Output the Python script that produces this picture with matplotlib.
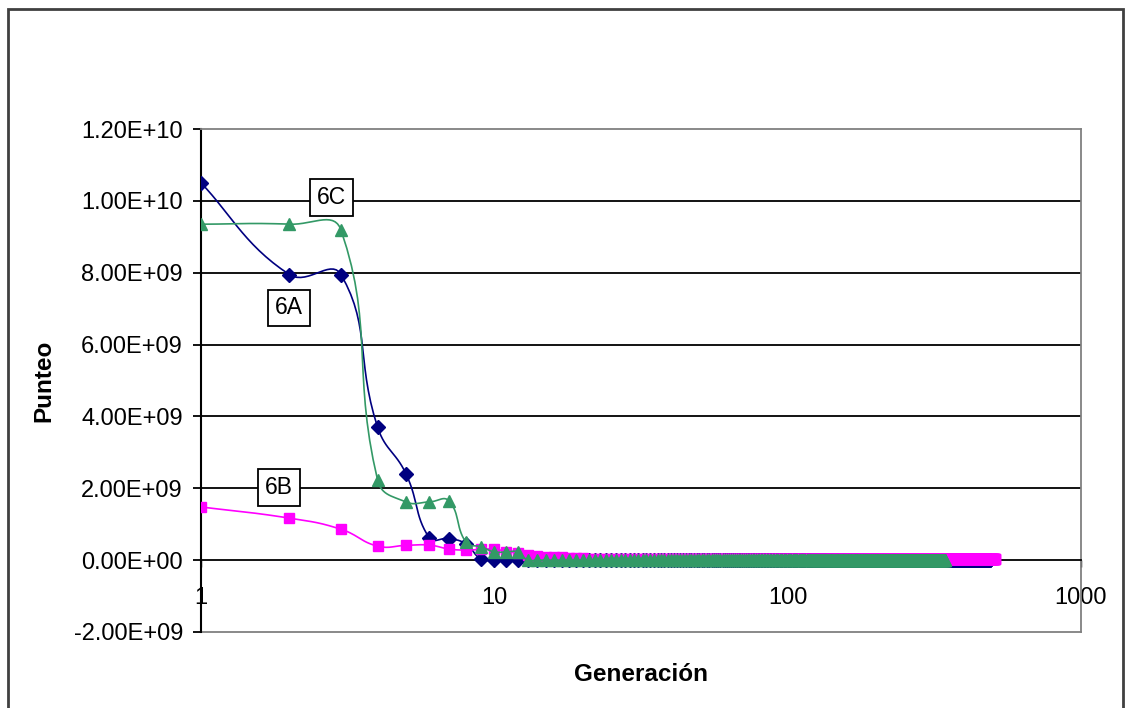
import numpy as np
import matplotlib
matplotlib.use("Agg")
import matplotlib.pyplot as plt
from matplotlib.patches import Rectangle
from matplotlib.ticker import FuncFormatter, FixedLocator, NullLocator

plt.rcParams['font.family'] = ['Liberation Sans', 'DejaVu Sans']

# Punteo per generation, first generations read one by one, tails sit on zero
gen_a = list(range(1, 491))
vals_a = [1.05e10, 7.95e9, 7.95e9, 3.70e9, 2.40e9, 6.2e8, 6.0e8, 4.5e8,
          3.0e7, 0.0, 0.0, 0.0] + [0.0] * (490 - 12)

gen_b = list(range(1, 511))
vals_b = [1.48e9, 1.17e9, 8.6e8, 3.9e8, 4.1e8, 4.2e8, 3.1e8, 2.8e8,
          3.0e8, 3.1e8, 2.4e8, 2.0e8, 1.4e8, 1.2e8, 1.0e8, 9.0e7,
          8.0e7, 7.0e7, 6.0e7, 5.0e7, 4.0e7] + [2.0e7] * (510 - 21)

gen_c = list(range(1, 346))
vals_c = [9.35e9, 9.35e9, 9.19e9, 2.23e9, 1.62e9, 1.62e9, 1.65e9, 5.0e8,
          3.7e8, 2.3e8, 2.3e8, 2.3e8] + [0.0] * (345 - 12)

labels = ["6A", "6B", "6C"]
label_pos = [(1.99, 7.02e9), (1.84, 2.02e9), (2.79, 1.01e10)]

y_ticks = [-2e9, 0, 2e9, 4e9, 6e9, 8e9, 1e10, 1.2e10]
x_ticks = [1, 10, 100, 1000]

# screen-ish scale used by the smoothing (px per decade, px per 1e9)
SX, SY = 294.0, 35.9
TENSION = 0.45


def smooth(x, y, n=16):
    # Bezier smoothing, handles weighted by neighbouring chord lengths
    px = np.log10(np.asarray(x, float)) * SX
    py = np.asarray(y, float) / 1e9 * SY
    pts = np.column_stack([px, py])
    d = np.hypot(*np.diff(pts, axis=0).T)
    out = [pts[:1]]
    t = np.linspace(0, 1, n)[1:, None]
    for i in range(len(pts) - 1):
        p1, p2 = pts[i], pts[i + 1]
        if i > 0:
            c1 = p1 + (p2 - pts[i - 1]) * d[i] / (d[i - 1] + d[i] + 1e-9) * TENSION
        else:
            c1 = p1 + (p2 - p1) / 3.0
        if i + 2 < len(pts):
            c2 = p2 - (pts[i + 2] - p1) * d[i] / (d[i] + d[i + 1] + 1e-9) * TENSION
        else:
            c2 = p2 - (p2 - p1) / 3.0
        seg = ((1 - t) ** 3) * p1 + 3 * ((1 - t) ** 2) * t * c1 \
            + 3 * (1 - t) * t ** 2 * c2 + t ** 3 * p2
        out.append(seg)
    pts = np.vstack(out)
    return 10 ** (pts[:, 0] / SX), pts[:, 1] / SY * 1e9


fig = plt.figure(figsize=(11.25, 7.08), dpi=100)
ax = fig.add_axes([201 / 1125, 1 - 632 / 708, 880 / 1125, 503 / 708])

series = [
    (gen_a, vals_a, "#000080", "D", 7.0),
    (gen_b, vals_b, "#ff00ff", "s", 7.5),
    (gen_c, vals_c, "#339966", "^", 8.5),
]
for k, (g, v, col, mk, ms) in enumerate(series):
    sx, sy = smooth(g, v)
    ax.plot(sx, sy, color=col, lw=1.2, zorder=3 + k)
    ax.plot(g, v, ls="none", marker=mk, ms=ms, color=col, mec=col, zorder=3 + k)

ax.set_xscale("log")
ax.set_xlim(1, 1000)
ax.set_ylim(-2e9, 1.2e10)

for yv in y_ticks[2:-1]:
    ax.axhline(yv, color="black", lw=1.3, zorder=1)

ax.spines["bottom"].set_position(("data", 0))
ax.spines["bottom"].set_color("black")
ax.spines["bottom"].set_linewidth(1.3)
ax.spines["left"].set_color("black")
ax.spines["left"].set_linewidth(1.5)
for s in ("top", "right"):
    ax.spines[s].set_color("#808080")
    ax.spines[s].set_linewidth(1.3)
ax.axhline(-2e9, color="#808080", lw=1.3, clip_on=False, zorder=2)

ax.yaxis.set_major_locator(FixedLocator(y_ticks))
ax.yaxis.set_major_formatter(FuncFormatter(lambda v, p: "%.2E" % v))
ax.xaxis.set_major_locator(FixedLocator(x_ticks))
ax.xaxis.set_minor_locator(NullLocator())
ax.xaxis.set_major_formatter(FuncFormatter(lambda v, p: "%d" % v))
ax.tick_params(axis="y", direction="out", length=6, width=1.3, pad=7,
               labelsize=17, colors="black")
ax.tick_params(axis="x", direction="out", length=5, width=1.0, pad=14,
               labelsize=17, colors="black")

ax.set_ylabel("Punteo", fontsize=17.5, fontweight="bold")
ax.set_xlabel("Generación", fontsize=17.5, fontweight="bold")
ax.xaxis.set_label_coords(0.5, -0.062)
ax.yaxis.set_label_coords(-0.165, 0.5)

for txt, (lx, ly) in zip(labels, label_pos):
    ax.text(lx, ly, txt, fontsize=16.5, ha="center", va="center", zorder=10,
            bbox=dict(boxstyle="square,pad=0.3", fc="white", ec="black", lw=1.3))

# outer chart frame
fig.add_artist(Rectangle((8 / 1125, -0.05), 1115 / 1125, 1 - 9 / 708 + 0.05,
                         transform=fig.transFigure, fill=False,
                         ec="#404040", lw=2.0))

fig.savefig("out.png", dpi=100)
